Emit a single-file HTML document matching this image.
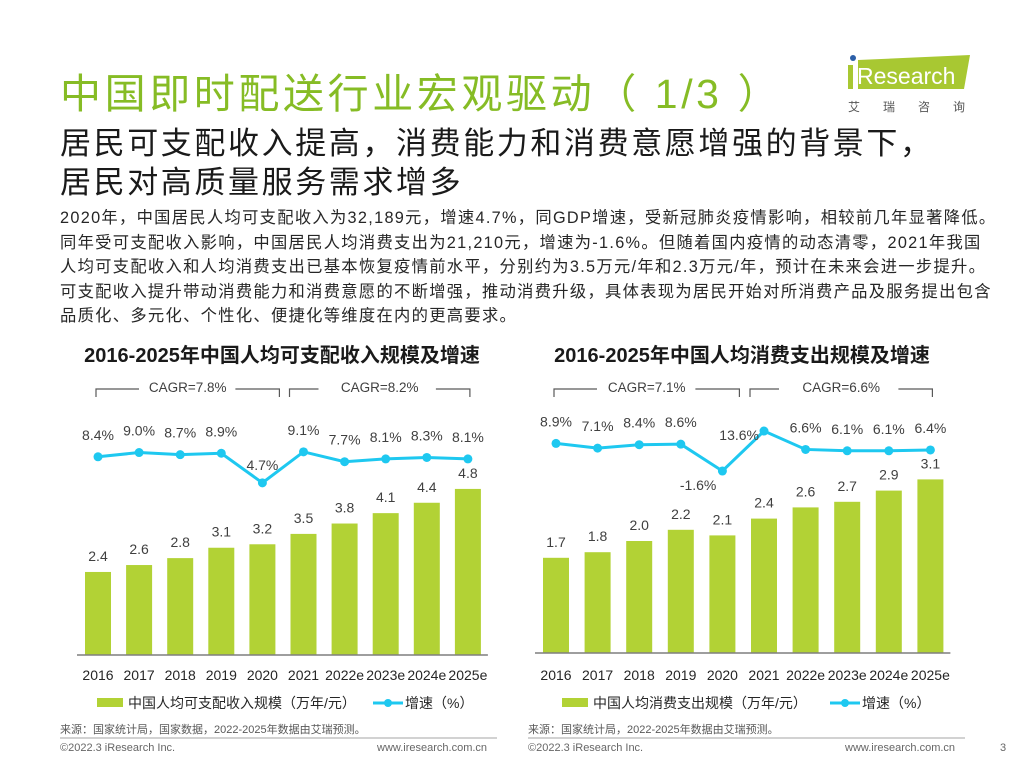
<!DOCTYPE html>
<html><head><meta charset="utf-8"><style>
body{margin:0;width:1024px;height:768px;background:#fff;overflow:hidden;position:relative;font-family:"Liberation Sans","Noto Sans CJK SC",sans-serif;color:#262626}
.a{position:absolute;white-space:nowrap}
</style></head><body>
<div class="a" style="left:60px;top:60px;font-size:41px;letter-spacing:3.6px;color:#86bc25">中国即时配送行业宏观驱动（ 1/3 ）</div>
<div class="a" style="left:846px;top:52px;width:130px;height:62px">
<svg width="130" height="62"><polygon points="12,8 124,3 118,37 12,37" fill="#a8c832"/><circle cx="7" cy="6" r="3" fill="#2c5fa8"/><rect x="2" y="13" width="5" height="24" fill="#a8c832"/><text x="11" y="32" font-size="23" fill="#fff" font-family="Liberation Sans">Research</text><text x="2" y="59" font-size="12" fill="#555" font-family="Noto Sans CJK SC" letter-spacing="23">艾瑞咨询</text></svg></div>
<div class="a" style="left:60px;top:124px;font-size:31px;letter-spacing:2.6px;line-height:39px;color:#1a1a1a">居民可支配收入提高，消费能力和消费意愿增强的背景下，<br>居民对高质量服务需求增多</div>
<div class="a" style="left:60px;top:206px;font-size:16.3px;letter-spacing:1.3px;line-height:24.6px;color:#262626">2020年，中国居民人均可支配收入为32,189元，增速4.7%，同GDP增速，受新冠肺炎疫情影响，相较前几年显著降低。<br>同年受可支配收入影响，中国居民人均消费支出为21,210元，增速为-1.6%。但随着国内疫情的动态清零，2021年我国<br>人均可支配收入和人均消费支出已基本恢复疫情前水平，分别约为3.5万元/年和2.3万元/年，预计在未来会进一步提升。<br>可支配收入提升带动消费能力和消费意愿的不断增强，推动消费升级，具体表现为居民开始对所消费产品及服务提出包含<br>品质化、多元化、个性化、便捷化等维度在内的更高要求。</div>
<svg id="charts" class="a" style="left:0;top:0" width="1024" height="768" font-family="Liberation Sans, Noto Sans CJK SC, sans-serif"></svg>
<div class="a" style="left:60px;top:742px;font-size:11px;color:#666">©2022.3 iResearch Inc.</div>
<div class="a" style="left:377px;top:742px;font-size:11px;color:#666">www.iresearch.com.cn</div>
<div class="a" style="left:528px;top:742px;font-size:11px;color:#666">©2022.3 iResearch Inc.</div>
<div class="a" style="left:845px;top:742px;font-size:11px;color:#666">www.iresearch.com.cn</div>
<div class="a" style="left:1000px;top:742px;font-size:11px;color:#666">3</div>
<script>
const years=["2016","2017","2018","2019","2020","2021","2022e","2023e","2024e","2025e"];
const incomeValues=[2.4,2.6,2.8,3.1,3.2,3.5,3.8,4.1,4.4,4.8];
const incomeGrowth=[8.4,9.0,8.7,8.9,4.7,9.1,7.7,8.1,8.3,8.1];
const spendValues=[1.7,1.8,2.0,2.2,2.1,2.4,2.6,2.7,2.9,3.1];
const spendGrowth=[8.9,7.1,8.4,8.6,-1.6,13.6,6.6,6.1,6.1,6.4];
const incomeCagr=["CAGR=7.8%","CAGR=8.2%"];
const spendCagr=["CAGR=7.1%","CAGR=6.6%"];
const NS="http://www.w3.org/2000/svg";
const svg=document.getElementById('charts');
function mk(tag,attrs,txt,parent){const e=document.createElementNS(NS,tag);for(const k in attrs)e.setAttribute(k,attrs[k]);if(txt!=null)e.textContent=txt;(parent||svg).appendChild(e);return e;}
function chart(o){
  const g=mk('g',{});
  
  
  const x=i=>o.x0+i*o.step, yb=v=>o.base-v*o.bs, yl=v=>o.l0-v*o.ls;
  const t=mk('text',{x:o.tx,y:362,'font-size':20,'font-weight':'bold',fill:'#1a1a1a','text-anchor':'middle'},o.title,g);
  
  const bx=[x(0)-2,x(4)+17,x(5)-14,x(9)+2];
  const br=mk('path',{d:`M${bx[0]},397 V389 H${bx[0]+43} M${bx[1]-44},389 H${bx[1]} V397 M${bx[2]},397 V389 H${bx[2]+29} M${bx[3]-34},389 H${bx[3]} V397`,stroke:'#595959','stroke-width':1.2,fill:'none'},null,g);
  
  [(bx[0]+bx[1])/2,(bx[2]+bx[3])/2].forEach((cx,i)=>{const c=mk('text',{x:cx,y:392,'font-size':13.5,fill:'#404040','text-anchor':'middle'},o.cagr[i],g);});
  o.vals.forEach((v,i)=>{
    const r=mk('rect',{x:x(i)-13,y:yb(v),width:26,height:o.base-yb(v),fill:'#b2d235'},null,g);
    
    const l=mk('text',{x:x(i),y:yb(v)-11,'font-size':14,fill:'#404040','text-anchor':'middle'},v.toFixed(1),g);
    
    const yl2=mk('text',{x:x(i),y:680,'font-size':14,fill:'#262626','text-anchor':'middle'},years[i],g);
    
  });
  const ax=mk('line',{x1:o.x0-21,x2:x(9)+20,y1:o.base,y2:o.base,stroke:'#7f7f7f','stroke-width':1.5},null,g);
  
  const ln=mk('polyline',{points:o.gr.map((v,i)=>x(i)+','+yl(v)).join(' '),fill:'none',stroke:'#1ec8f0','stroke-width':3},null,g);
  
  o.gr.forEach((v,i)=>{
    const c=mk('circle',{cx:x(i),cy:yl(v),r:4.5,fill:'#1ec8f0'},null,g);
    
    let lx=x(i),ly=yl(v)-17,anc='middle';
    if(o.special&&o.special[i]){[lx,ly,anc]=o.special[i](x(i),yl(v));}
    const l=mk('text',{x:lx,y:ly,'font-size':14,fill:'#404040','text-anchor':anc},v.toFixed(1)+'%',g);
    
  });
  const lr=mk('rect',{x:o.lgx,y:698,width:26,height:9,fill:'#b2d235'},null,g);
  
  const lt=mk('text',{x:o.lgx+31,y:708,'font-size':14,fill:'#262626'},o.legend,g);
  
  const ll=mk('line',{x1:o.lgx2,x2:o.lgx2+30,y1:703,y2:703,stroke:'#1ec8f0','stroke-width':3},null,g);
  
  mk('circle',{cx:o.lgx2+15,cy:703,r:4,fill:'#1ec8f0'},null,g);
  const lt2=mk('text',{x:o.lgx2+32,y:708,'font-size':14,fill:'#262626'},'增速（%）',g);
  
  const s=mk('text',{x:o.srcx,y:733,'font-size':11,fill:'#595959'},o.src,g);
  
  mk('line',{x1:o.srcx,x2:o.srcx+437,y1:738,y2:738,stroke:'#a6a6a6','stroke-width':1},null,g);
}
chart({name:'income-chart',title:'2016-2025年中国人均可支配收入规模及增速',tx:282,x0:98,step:41.1,base:655,bs:34.6,l0:516,ls:7.05,vals:incomeValues,gr:incomeGrowth,cagr:incomeCagr,legend:'中国人均可支配收入规模（万年/元）',lgx:97,lgx2:373,srcx:60,src:'来源：国家统计局，国家数据，2022-2025年数据由艾瑞预测。',
  special:{4:(x,y)=>[x,y-13,'middle']}});
chart({name:'spending-chart',title:'2016-2025年中国人均消费支出规模及增速',tx:742,x0:556,step:41.6,base:653,bs:56,l0:466.8,ls:2.63,vals:spendValues,gr:spendGrowth,cagr:spendCagr,legend:'中国人均消费支出规模（万年/元）',lgx:562,lgx2:830,srcx:528,src:'来源：国家统计局，2022-2025年数据由艾瑞预测。',
  special:{4:(x,y)=>[x-6,y+19,'end'],5:(x,y)=>[x-5,y+9,'end']}});
</script>
</body></html>
